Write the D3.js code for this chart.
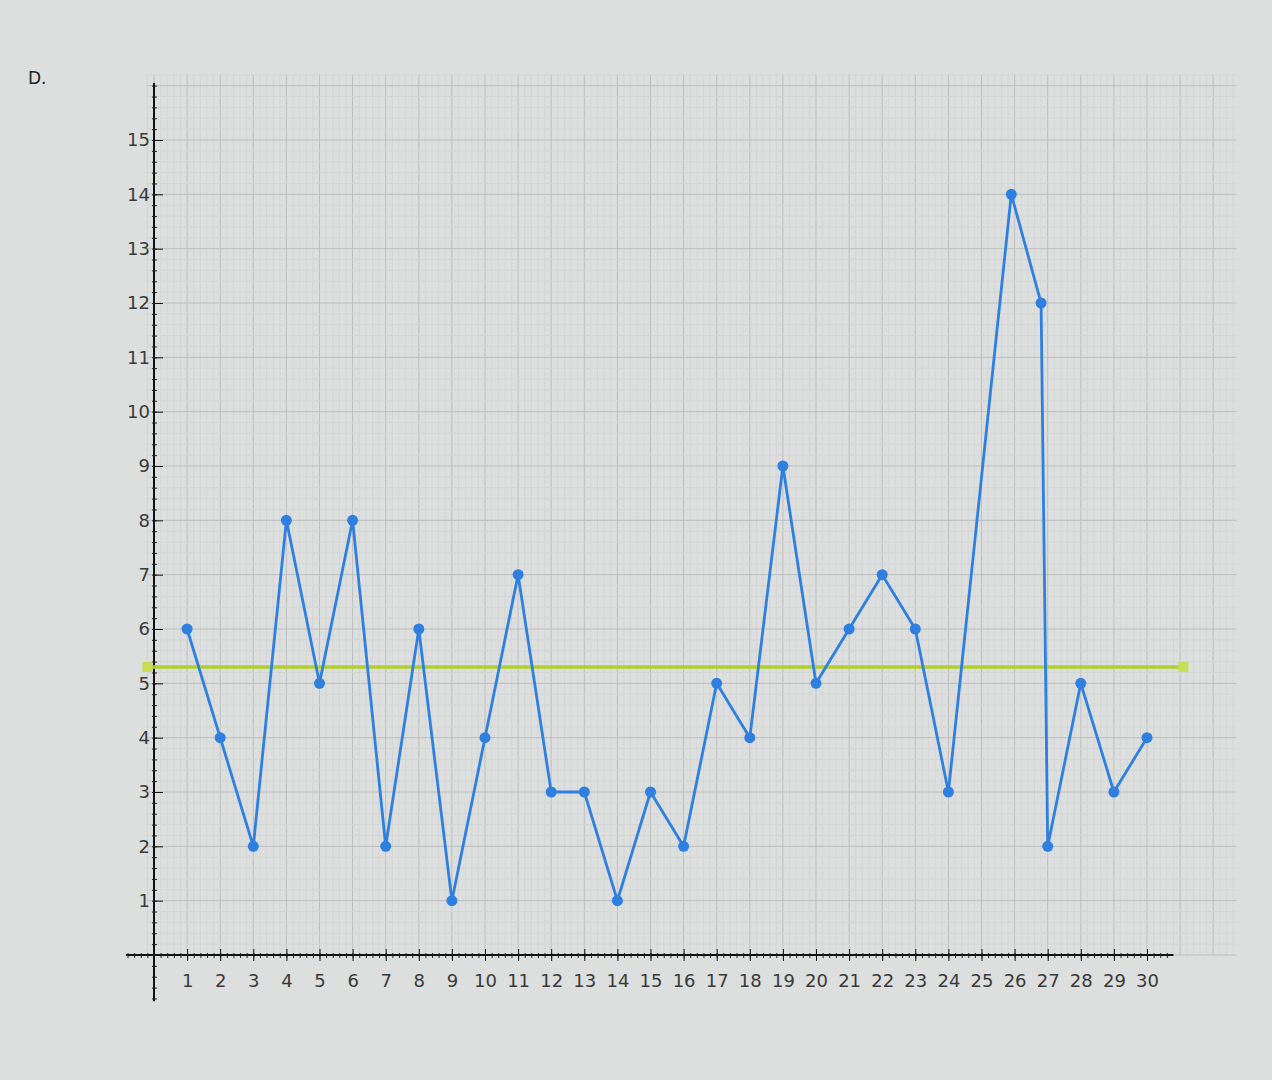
<!DOCTYPE html>
<html>
<head>
<meta charset="utf-8">
<script src="https://cdn.jsdelivr.net/npm/d3@7"></script>
<style>
  body { margin:0; background:#dcdfde; }
  svg { display:block; }
  .tickLabel { font-family:"DejaVu Sans", sans-serif; font-size:18px; fill:#3a3a3a; }
</style>
</head>
<body>
<div id="chart"></div>
<script>
// =====================================================================
// data
var xValues = [1,2,3,4,5,6,7,8,9,10,11,12,13,14,15,16,17,18,19,20,
               21,22,23,24,25.9,26.8,27,28,29,30];
var yValues = [6,4,2,8,5,8,2,6,1,4,7,3,3,1,3,2,5,4,9,5,
               6,7,6,3,14,12,2,5,3,4];
var trendX = [-0.2, 31.1];
var trendY = [5.3, 5.3];
var xTickValues = d3.range(1, 31);
var yTickValues = d3.range(1, 16);
var panelLabel = "D.";

// =====================================================================
// global variables
var size = { width:1272, height:1080 };
var blue = "#2f7fe0";
var green = "#b3cf2c";

var svg = d3.select("#chart").append("svg")
    .attr("width", size.width)
    .attr("height", size.height);

var x = d3.scaleLinear().domain([0, 30]).range([154, 1147]);
var y = d3.scaleLinear().domain([0, 15]).range([955, 140]);

// grid
var grid = svg.append("g").attr("class", "grid");
var gx0 = -0.2, gx1 = 32.7, gy0 = 0, gy1 = 16.2;
var minorX = d3.range(Math.ceil(gx0 * 5), Math.floor(gx1 * 5) + 1).map(function(d){ return d / 5; });
var minorY = d3.range(0, Math.floor(gy1 * 5) + 1).map(function(d){ return d / 5; });
function isMajor(d) { return Math.abs(d - Math.round(d)) < 1e-6; }

grid.selectAll(".minorV").data(minorX).enter().append("line")
    .attr("x1", function(d){ return x(d); }).attr("x2", function(d){ return x(d); })
    .attr("y1", y(gy0)).attr("y2", y(gy1))
    .attr("stroke", function(d){ return isMajor(d) ? "#bcbfbe" : "#d4d7d6"; })
    .attr("stroke-width", 1);
grid.selectAll(".minorH").data(minorY).enter().append("line")
    .attr("y1", function(d){ return y(d); }).attr("y2", function(d){ return y(d); })
    .attr("x1", x(gx0)).attr("x2", x(gx1))
    .attr("stroke", function(d){ return isMajor(d) ? "#bcbfbe" : "#d4d7d6"; })
    .attr("stroke-width", 1);

// axes
var axes = svg.append("g").attr("class", "axes");

// x axis line and ticks
axes.append("line")
    .attr("x1", x(-0.85)).attr("x2", x(30.8))
    .attr("y1", y(0)).attr("y2", y(0))
    .attr("stroke", "#111").attr("stroke-width", 2);

var xMinor = d3.range(-4, 154).map(function(d){ return d / 5; });
axes.append("g")
    .attr("transform", "translate(0," + y(0) + ")")
    .call(d3.axisBottom(x).tickValues(xMinor).tickFormat("").tickSize(3).tickSizeOuter(0))
    .call(function(g){ g.select(".domain").remove(); })
    .selectAll("line").attr("y1", -2).attr("stroke", "#222");

var xAxis = axes.append("g")
    .attr("transform", "translate(0," + y(0) + ")")
    .call(d3.axisBottom(x).tickValues(xTickValues).tickSize(6).tickSizeOuter(0).tickPadding(13))
    .call(function(g){ g.select(".domain").remove(); });
xAxis.selectAll("line").attr("y1", -6).attr("stroke", "#111");
xAxis.selectAll("text").attr("class", "tickLabel").attr("font-family", null).attr("font-size", null);

// y axis line and ticks
axes.append("line")
    .attr("x1", x(0)).attr("x2", x(0))
    .attr("y1", y(-0.85)).attr("y2", y(16.05))
    .attr("stroke", "#111").attr("stroke-width", 2);

var yMinor = d3.range(-4, 81).map(function(d){ return d / 5; });
axes.append("g")
    .attr("transform", "translate(" + x(0) + ",0)")
    .call(d3.axisRight(y).tickValues(yMinor).tickFormat("").tickSize(3).tickSizeOuter(0))
    .call(function(g){ g.select(".domain").remove(); })
    .selectAll("line").attr("x1", -2).attr("stroke", "#222");

var yAxis = axes.append("g")
    .attr("transform", "translate(" + x(0) + ",0)")
    .call(d3.axisLeft(y).tickValues(yTickValues).tickSize(3).tickSizeOuter(0).tickPadding(1))
    .call(function(g){ g.select(".domain").remove(); });
yAxis.selectAll("line").attr("x2", 9).attr("stroke", "#111");
yAxis.selectAll("text").attr("class", "tickLabel").attr("font-family", null).attr("font-size", null);

// trend line
var trend = trendX.map(function(d, i){ return [d, trendY[i]]; });
svg.append("path")
    .datum(trend)
    .attr("fill", "none")
    .attr("stroke", green)
    .attr("stroke-width", 3.5)
    .attr("d", d3.line().x(function(d){ return x(d[0]); }).y(function(d){ return y(d[1]); }));
svg.selectAll(".trendEnd").data(trend).enter().append("rect")
    .attr("x", function(d){ return x(d[0]) - 5; })
    .attr("y", function(d){ return y(d[1]) - 5; })
    .attr("width", 10).attr("height", 10)
    .attr("fill", "#c9dc55");

// data line
var points = xValues.map(function(d, i){ return [d, yValues[i]]; });
svg.append("path")
    .datum(points)
    .attr("fill", "none")
    .attr("stroke", blue)
    .attr("stroke-width", 2.8)
    .attr("stroke-linejoin", "round")
    .attr("d", d3.line().x(function(d){ return x(d[0]); }).y(function(d){ return y(d[1]); }));

svg.selectAll(".dot").data(points).enter().append("circle")
    .attr("class", "dot")
    .attr("cx", function(d){ return x(d[0]); })
    .attr("cy", function(d){ return y(d[1]); })
    .attr("r", 5.5)
    .attr("fill", blue);

// panel label
svg.append("text")
    .attr("x", 28).attr("y", 84)
    .attr("font-family", "DejaVu Sans, sans-serif")
    .attr("font-size", 17)
    .attr("fill", "#222")
    .text(panelLabel);
</script>
</body>
</html>
